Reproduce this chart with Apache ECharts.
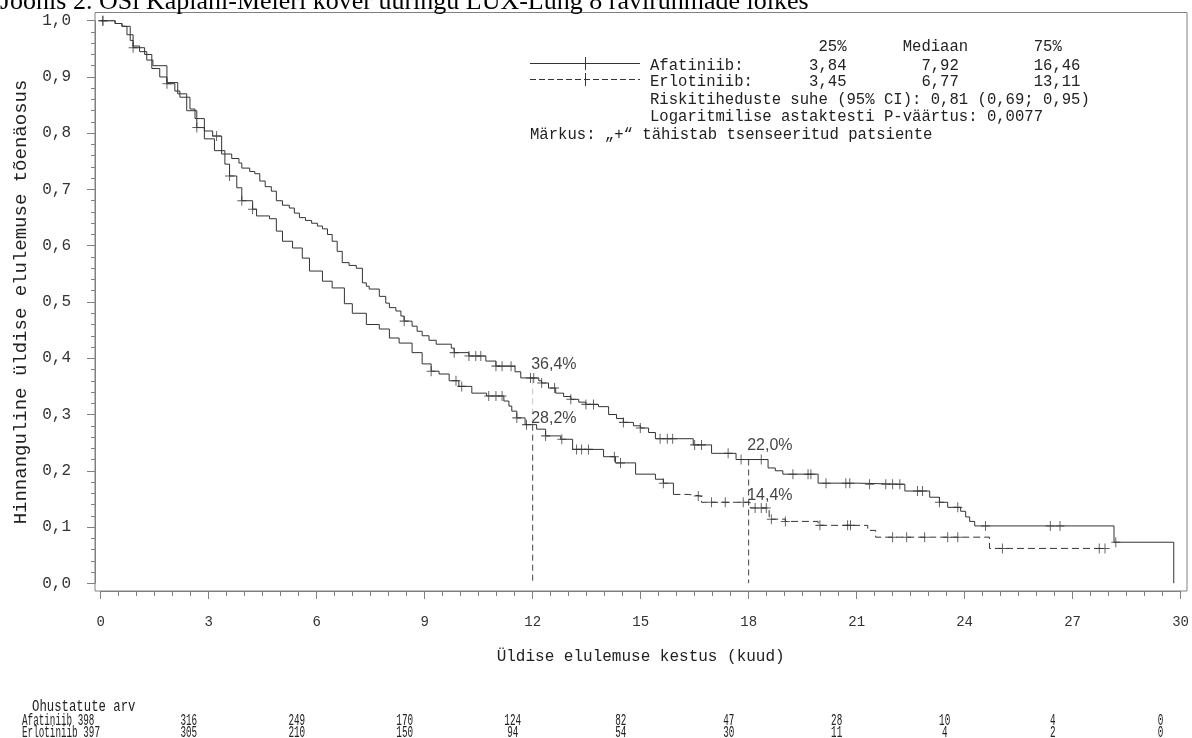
<!DOCTYPE html>
<html lang="et">
<head>
<meta charset="UTF-8">
<title>OS Kaplani-Meieri kõver</title>
<style>
  html, body { margin: 0; padding: 0; background: #fff; }
  #km { width: 1192px; height: 738px; }
</style>
</head>
<body>
<div id="km"></div>
<script src="https://cdn.jsdelivr.net/npm/echarts@6/dist/echarts.min.js"></script>
<script>
// Afatiniib: kuud / elulemus pärast sündmust
var afaTime = [0, 0.40, 0.59, 0.73, 0.90, 1.08, 1.28, 1.45, 1.84, 2.06, 2.20, 2.48, 2.62, 2.88, 3.11, 3.36, 3.64, 3.84, 3.92,
  4.14, 4.28, 4.42, 4.57, 4.74, 4.88, 5.05, 5.24, 5.38, 5.52, 5.69, 5.86, 6.02, 6.16, 6.30, 6.43, 6.57, 6.71, 6.90, 7.10,
  7.27, 7.38, 7.46, 7.74, 7.92, 8.02, 8.20, 8.34, 8.43, 8.65, 8.79, 8.93, 9.12, 9.32, 9.74, 9.82, 10.23, 10.70, 10.98,
  11.51, 11.67, 12.17, 12.25, 12.44, 12.64, 12.86, 13.06, 13.28, 13.48, 13.83, 14.11, 14.33, 14.52, 14.80, 14.99, 15.22,
  15.41, 16.46, 16.97, 17.65, 18.54, 18.74, 18.95, 19.93, 21.03, 22.34, 23.03, 23.30, 23.53, 23.89, 24.03, 24.14, 24.28,
  28.15, 29.81]
var afaSurv = [1.0, 0.995, 0.99, 0.975, 0.955, 0.945, 0.93, 0.92, 0.888, 0.875, 0.864, 0.843, 0.826, 0.804, 0.795, 0.763, 0.755, 0.747, 0.738,
  0.732, 0.728, 0.715, 0.705, 0.697, 0.68, 0.672, 0.667, 0.658, 0.65, 0.645, 0.64, 0.635, 0.63, 0.62, 0.608, 0.59, 0.57, 0.565, 0.56,
  0.534, 0.528, 0.523, 0.51, 0.498, 0.49, 0.484, 0.475, 0.466, 0.457, 0.448, 0.44, 0.432, 0.425, 0.418, 0.41, 0.404, 0.395, 0.386,
  0.376, 0.365, 0.36, 0.356, 0.347, 0.338, 0.332, 0.327, 0.322, 0.318, 0.314, 0.30, 0.293, 0.286, 0.28, 0.276, 0.268,
  0.257, 0.246, 0.231, 0.22, 0.205, 0.2, 0.194, 0.178, 0.176, 0.164, 0.153, 0.144, 0.135, 0.128, 0.118, 0.11, 0.102,
  0.073, 0]
var afaCensor = [0.06, 1.84, 3.22, 8.43, 9.82, 10.23, 10.42, 10.56, 10.98, 11.15, 11.40, 11.94, 12.03, 12.25, 12.61, 13.06,
  13.48, 13.69, 14.52, 14.99, 15.54, 15.74, 15.89, 16.50, 16.69, 17.43, 17.79, 18.35, 19.23, 19.65, 19.73, 20.15, 20.70,
  20.81, 21.36, 21.81, 22.00, 22.20, 22.69, 22.83, 23.30, 23.81, 24.58, 26.38, 26.65, 28.20]

// Erlotiniib
var erlTime = [0, 0.40, 0.59, 0.82, 0.90, 1.22, 1.42, 1.64, 1.84, 2.14, 2.39, 2.67, 2.88, 3.16, 3.45, 3.58, 3.78, 3.92,
  4.22, 4.33, 4.69, 4.88, 5.05, 5.33, 5.60, 5.80, 6.16, 6.43, 6.77, 6.99, 7.38, 7.74, 8.02, 8.29, 8.65, 8.93, 9.18, 9.40,
  9.68, 9.95, 10.31, 10.72, 11.20, 11.34, 11.42, 11.56, 11.79, 12.11, 12.36, 12.78, 13.11, 13.97, 14.30, 14.86, 15.41,
  15.63, 15.91, 16.32, 16.69, 18.04, 18.57, 19.02, 19.93, 21.31, 21.53, 24.69, 27.90]
var erlSurv = [1.0, 0.995, 0.99, 0.965, 0.952, 0.94, 0.915, 0.90, 0.89, 0.87, 0.84, 0.81, 0.79, 0.769, 0.745, 0.724, 0.703, 0.68,
  0.665, 0.653, 0.648, 0.626, 0.608, 0.596, 0.578, 0.555, 0.537, 0.525, 0.497, 0.48, 0.46, 0.452, 0.436, 0.427, 0.41, 0.39, 0.377, 0.372,
  0.36, 0.35, 0.338, 0.333, 0.324, 0.315, 0.306, 0.294, 0.282, 0.274, 0.262, 0.256, 0.238, 0.225, 0.214, 0.194, 0.185,
  0.178, 0.158, 0.155, 0.144, 0.134, 0.114, 0.11, 0.103, 0.094, 0.082, 0.062, 0.062]
var erlCensor = [0.06, 0.90, 2.67, 3.58, 3.92, 4.22, 9.18, 9.87, 10.03, 10.78, 10.98, 11.15, 11.56, 11.83, 12.36, 12.81,
  13.22, 13.36, 13.55, 14.27, 14.44, 15.63, 16.60, 16.97, 17.35, 17.85, 18.18, 18.35, 18.49, 18.63, 19.02, 19.98, 20.75,
  20.83, 22.00, 22.39, 22.89, 23.53, 23.81, 25.05, 27.74, 27.90]
var erlDashFrom = 15.91

var landmarkTime = [12, 18]
var afaLandmark = [0.364, 0.220]
var erlLandmark = [0.282, 0.144]
var afaLandmarkText = ['36,4%', '22,0%']
var erlLandmarkText = ['28,2%', '14,4%']

var riskTime = [0, 3, 6, 9, 12, 15, 18, 21, 24, 27, 30]
var afaRisk = [398, 316, 249, 170, 124, 82, 47, 28, 10, 4, 0]
var erlRisk = [397, 305, 210, 150, 94, 54, 30, 11, 4, 2, 0]

var mono = '"Liberation Mono", "DejaVu Sans Mono", monospace'
var ink = '#333'
var axisGray = '#808080'

function pairs(t, s) {
  return t.map(function (v, i) { return [v, s[i]] })
}
function survAt(t, s, x) {
  var v = s[0]
  for (var i = 0; i < t.length; i++) { if (t[i] <= x) v = s[i] }
  return v
}
// place pieces of text at fixed character columns (monospace)
function cols(parts) {
  var out = ''
  parts.forEach(function (p) {
    while (out.length < p[1]) out += ' '
    out += p[0]
  })
  return out
}

var afaLine = pairs(afaTime, afaSurv)
var erlLine = pairs(erlTime, erlSurv)
var cut = erlTime.indexOf(erlDashFrom)
var erlSolid = erlLine.slice(0, cut + 1)
var erlDashed = erlLine.slice(cut)
var afaMarks = afaCensor.map(function (c) { return [c, survAt(afaTime, afaSurv, c)] })
var erlMarks = erlCensor.map(function (c) { return [c, survAt(erlTime, erlSurv, c)] })

var plus = 'path://M5,0L5,10M0,5L10,5'
var censorStyle = { color: 'none', borderColor: ink, borderWidth: 1 }
var pctFont = '"Liberation Sans", Arial, sans-serif'

var chart = echarts.init(document.getElementById('km'))
var option = {
  animation: false,
  grid: { left: 100.7, right: 8.7, top: 20.7, bottom: 154.7 },
  xAxis: [{
    type: 'value', min: 0, max: 30, interval: 3, offset: 7.7,
    name: 'Üldise elulemuse kestus (kuud)', nameLocation: 'middle', nameGap: 58,
    nameTextStyle: { fontFamily: mono, fontSize: 16, color: '#222' },
    axisLine: { show: true, onZero: false, lineStyle: { color: axisGray } },
    axisTick: { show: true, length: 8, lineStyle: { color: axisGray } },
    minorTick: { show: true, splitNumber: 6, length: 5, lineStyle: { color: axisGray } },
    axisLabel: { fontFamily: mono, fontSize: 14, color: '#333', margin: 24 },
    splitLine: { show: false }
  }, {
    // column scale of the risk table
    type: 'value', min: 0.554, max: 30.554, show: false
  }],
  yAxis: {
    type: 'value', min: 0, max: 1, interval: 0.1, offset: 5.7,
    name: 'Hinnanguline üldise elulemuse tõenäosus', nameLocation: 'middle', nameGap: 65,
    nameTextStyle: { fontFamily: mono, fontSize: 19, color: '#222' },
    axisLine: { show: true, onZero: false, lineStyle: { color: axisGray } },
    axisTick: { show: true, length: 8, lineStyle: { color: axisGray } },
    minorTick: { show: true, splitNumber: 5, length: 4, lineStyle: { color: axisGray } },
    axisLabel: {
      fontFamily: mono, fontSize: 16, color: '#333', margin: 24,
      formatter: function (v) { return v.toFixed(1).replace('.', ',') }
    },
    splitLine: { show: false }
  },
  series: [
    {
      name: 'Afatiniib', type: 'line', step: 'end', data: afaLine, showSymbol: false,
      lineStyle: { color: ink, width: 1 }, z: 3
    },
    {
      name: 'Erlotiniib', type: 'line', step: 'end', data: erlSolid, showSymbol: false,
      lineStyle: { color: ink, width: 1 }, z: 3
    },
    {
      name: 'Erlotiniib', type: 'line', step: 'end', data: erlDashed, showSymbol: false,
      lineStyle: { color: ink, width: 1, type: [7, 4] }, z: 3
    },
    {
      type: 'scatter', data: afaMarks, symbol: plus, symbolSize: [9, 10],
      itemStyle: censorStyle, z: 4
    },
    {
      type: 'scatter', data: erlMarks, symbol: plus, symbolSize: [9, 10],
      itemStyle: censorStyle, z: 4
    },
    {
      type: 'line', data: [[landmarkTime[0], afaLandmark[0]], [landmarkTime[0], erlLandmark[0]]],
      showSymbol: false, lineStyle: { color: '#c8c8c8', width: 1, type: [6, 4] }, z: 2
    },
    {
      type: 'line', data: [[landmarkTime[0], erlLandmark[0]], [landmarkTime[0], 0]],
      showSymbol: false, lineStyle: { color: '#444', width: 1, type: [6, 4] }, z: 2
    },
    {
      type: 'line', data: [[landmarkTime[1], afaLandmark[1]], [landmarkTime[1], 0]],
      showSymbol: false, lineStyle: { color: '#444', width: 1, type: [6, 4] }, z: 2
    },
    {
      type: 'scatter', symbolSize: 1, itemStyle: { color: 'none' },
      data: landmarkTime.map(function (t, i) { return [t, afaLandmark[i]] }),
      label: {
        show: true, position: [-1, -21], fontFamily: pctFont, fontSize: 16, color: '#111',
        formatter: function (p) { return afaLandmarkText[p.dataIndex] }
      }, z: 5
    },
    {
      type: 'scatter', symbolSize: 1, itemStyle: { color: 'none' },
      data: landmarkTime.map(function (t, i) { return [t, erlLandmark[i]] }),
      label: {
        show: true, position: [-1, -14], fontFamily: pctFont, fontSize: 16, color: '#111',
        formatter: function (p) { return erlLandmarkText[p.dataIndex] }
      }, z: 5
    }
  ]
}
chart.setOption(option)

function txt(x, y, s, opts) {
  opts = opts || {}
  return {
    type: 'text', x: x, y: y, scaleX: opts.scaleX || 1, silent: true, z: 10,
    style: {
      x: 0, y: 0, text: s, fill: opts.fill || '#222',
      font: (opts.size || 15.6) + 'px ' + (opts.family || mono),
      align: opts.align || 'left', verticalAlign: 'middle'
    }
  }
}
function seg(x1, y1, x2, y2, dash) {
  return {
    type: 'line', silent: true, z: 10,
    shape: { x1: x1, y1: y1, x2: x2, y2: y2 },
    style: { stroke: ink, lineWidth: 1, lineDash: dash || null }
  }
}

var g = []
// plot frame
g.push({
  type: 'rect', silent: true, z: 1,
  shape: { x: 95, y: 12.5, width: 1092, height: 578.5 },
  style: { fill: 'none', stroke: axisGray, lineWidth: 1 }
})
// title, cut by the top edge
g.push(txt(0, 2.5, 'Joonis 2. OSi Kaplani-Meieri kõver uuringu LUX-Lung 8 ravirühmade lõikes',
  { size: 26, family: '"Liberation Serif", "Times New Roman", serif', fill: '#000' }))

// legend block
g.push(seg(530, 63.5, 640, 63.5))
g.push(seg(585.5, 57, 585.5, 70))
g.push(seg(530, 79.5, 640, 79.5, [6, 3]))
g.push(seg(585.5, 73, 585.5, 86))
g.push(txt(650, 47, cols([['25%', 18], ['Mediaan', 27], ['75%', 41]])))
g.push(txt(650, 66, cols([['Afatiniib:', 0], ['3,84', 17], ['7,92', 29], ['16,46', 41]])))
g.push(txt(650, 82, cols([['Erlotiniib:', 0], ['3,45', 17], ['6,77', 29], ['13,11', 41]])))
g.push(txt(650, 100, 'Riskitiheduste suhe (95% CI): 0,81 (0,69; 0,95)'))
g.push(txt(650, 117, 'Logaritmilise astaktesti P-väärtus: 0,0077'))
g.push(txt(530, 135, 'Märkus: „+“ tähistab tsenseeritud patsiente'))

// risk table
var tableX = function (m) { return chart.convertToPixel({ xAxisIndex: 1 }, m) }
var small = { size: 16, scaleX: 0.58 }
g.push(txt(32, 707, 'Ohustatute arv', { size: 16, scaleX: 0.77 }))
g.push(txt(22, 721, 'Afatiniib ' + afaRisk[0], small))
g.push(txt(22, 733, 'Erlotiniib ' + erlRisk[0], small))
riskTime.forEach(function (m, i) {
  if (i === 0) return
  var x = tableX(m)
  g.push(txt(x, 721, String(afaRisk[i]), { size: 16, scaleX: 0.58, align: 'center' }))
  g.push(txt(x, 733, String(erlRisk[i]), { size: 16, scaleX: 0.58, align: 'center' }))
})
chart.setOption({ graphic: g })
</script>
</body>
</html>
